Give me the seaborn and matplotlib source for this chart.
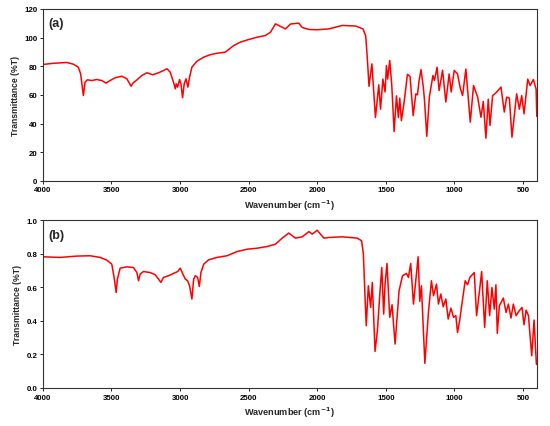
import matplotlib
matplotlib.use("Agg")
import matplotlib.pyplot as plt
import seaborn as sns
import pandas as pd

# Panel (a) spectrum: wavenumber (cm-1) and transmittance (%T)
wn_a = [4000, 3924, 3827, 3778, 3742, 3725, 3705, 3693, 3676, 3644, 3608, 3571, 3540, 3510,
        3474, 3425, 3388, 3357, 3345, 3320, 3279, 3242, 3199, 3157, 3121, 3096, 3072, 3048,
        3035, 3028, 3018, 3004, 2994, 2982, 2970, 2957, 2943, 2931, 2914, 2877, 2828, 2780,
        2731, 2670, 2609, 2560, 2500, 2439, 2378, 2341, 2305, 2232, 2195, 2135, 2110, 2061,
        2001, 1915, 1818, 1720, 1667, 1647, 1635, 1623, 1602, 1576, 1552, 1539, 1522, 1506,
        1496, 1487, 1472, 1457, 1440, 1423, 1409, 1399, 1387, 1367, 1343, 1324, 1301, 1282,
        1270, 1258, 1244, 1228, 1219, 1202, 1183, 1157, 1146, 1127, 1112, 1087, 1063, 1039,
        1024, 1002, 978, 958, 941, 917, 885, 861, 831, 807, 790, 771, 754, 741, 722, 698,
        661, 637, 620, 600, 581, 547, 527, 510, 493, 466, 449, 425, 405, 400]
tr_a = [81.2, 82.0, 82.6, 81.4, 79.3, 74.7, 59.5, 68.8, 70.5, 70.0, 70.7, 70.0, 68.2, 70.0,
        71.9, 73.0, 71.2, 66.0, 68.2, 70.0, 73.5, 75.4, 74.0, 75.4, 77.0, 78.2, 75.8, 68.8,
        64.2, 67.7, 65.4, 70.7, 67.7, 58.0, 67.7, 71.2, 65.4, 72.3, 79.3, 83.5, 86.3, 88.0,
        89.0, 89.8, 94.4, 96.8, 98.6, 100.2, 101.4, 103.7, 109.5, 106.0, 109.4, 110.0, 107.0, 105.6,
        105.4, 106.0, 108.4, 108.0, 106.0, 101.0, 85.0, 66.0, 81.6, 44.2, 67.0, 50.0, 71.0, 62.0,
        80.4, 71.0, 84.0, 66.5, 34.4, 59.3, 44.2, 57.7, 42.0, 55.0, 74.3, 72.8, 45.5, 60.7,
        60.0, 70.0, 77.6, 66.0, 57.0, 31.1, 58.6, 73.5, 70.0, 79.3, 63.0, 77.2, 55.0, 74.6,
        62.0, 77.0, 74.7, 64.7, 59.5, 78.0, 41.0, 66.5, 58.4, 44.4, 55.4, 29.8, 57.0, 38.6,
        59.5, 61.4, 65.4, 48.0, 58.4, 57.7, 30.5, 60.7, 50.0, 59.5, 46.8, 71.0, 66.5, 70.7,
        64.0, 45.0]

# Panel (b) spectrum: wavenumber (cm-1) and transmittance (fraction)
wn_b = [4000, 3876, 3754, 3656, 3583, 3535, 3498, 3481, 3466, 3457, 3437, 3388, 3340, 3315,
        3303, 3291, 3267, 3218, 3182, 3157, 3140, 3121, 3084, 3048, 3018, 2999, 2982, 2962,
        2945, 2931, 2914, 2901, 2889, 2872, 2860, 2848, 2828, 2792, 2731, 2658, 2585, 2512,
        2439, 2366, 2305, 2256, 2208, 2159, 2110, 2061, 2037, 2001, 1952, 1915, 1818, 1708,
        1677, 1664, 1652, 1643, 1628, 1611, 1599, 1579, 1562, 1545, 1530, 1516, 1506, 1492,
        1472, 1455, 1433, 1404, 1379, 1350, 1336, 1319, 1299, 1282, 1265, 1253, 1241, 1216,
        1190, 1168, 1153, 1131, 1117, 1100, 1082, 1063, 1046, 1026, 1007, 990, 978, 963,
        946, 922, 905, 888, 856, 839, 819, 802, 780, 761, 744, 727, 710, 698, 688, 673,
        644, 624, 607, 588, 571, 551, 532, 508, 493, 478, 461, 437, 420, 403, 400]
tr_b = [0.782, 0.778, 0.786, 0.788, 0.778, 0.762, 0.738, 0.659, 0.569, 0.649, 0.714, 0.722, 0.718, 0.688,
        0.639, 0.679, 0.694, 0.688, 0.675, 0.649, 0.629, 0.659, 0.669, 0.683, 0.694, 0.714, 0.683, 0.649,
        0.639, 0.609, 0.530, 0.649, 0.669, 0.659, 0.605, 0.688, 0.738, 0.764, 0.778, 0.788, 0.813, 0.827,
        0.833, 0.843, 0.857, 0.893, 0.923, 0.893, 0.901, 0.932, 0.917, 0.940, 0.893, 0.897, 0.901, 0.893,
        0.877, 0.798, 0.540, 0.371, 0.609, 0.480, 0.629, 0.218, 0.341, 0.550, 0.718, 0.440, 0.619, 0.742,
        0.421, 0.496, 0.262, 0.579, 0.669, 0.683, 0.659, 0.742, 0.500, 0.639, 0.782, 0.516, 0.609, 0.147,
        0.450, 0.639, 0.550, 0.619, 0.500, 0.560, 0.484, 0.530, 0.411, 0.476, 0.421, 0.431, 0.331, 0.397,
        0.500, 0.639, 0.615, 0.659, 0.688, 0.431, 0.569, 0.694, 0.361, 0.639, 0.431, 0.599, 0.470, 0.615,
        0.325, 0.490, 0.536, 0.450, 0.500, 0.417, 0.500, 0.431, 0.456, 0.480, 0.377, 0.464, 0.431, 0.192,
        0.405, 0.143, 0.140]

x_ticks = [4000, 3500, 3000, 2500, 2000, 1500, 1000, 500]
ya_ticks = [0, 20, 40, 60, 80, 100, 120]
yb_ticks = [0.0, 0.2, 0.4, 0.6, 0.8, 1.0]

sns.set_style("ticks")
plt.rcParams['font.family'] = ['Liberation Sans', 'DejaVu Sans']
plt.rcParams['font.weight'] = 'bold'

fig = plt.figure(figsize=(5.5, 4.27), dpi=100)
ax_a = fig.add_axes([0.078, 0.574, 0.898, 0.403])
ax_b = fig.add_axes([0.078, 0.089, 0.898, 0.393])

df_a = pd.DataFrame({"wn": wn_a, "tr": tr_a})
df_b = pd.DataFrame({"wn": wn_b, "tr": tr_b})

sns.lineplot(data=df_a, x="wn", y="tr", ax=ax_a, color="#ff0000", linewidth=1.1,
             estimator=None, sort=False)
sns.lineplot(data=df_b, x="wn", y="tr", ax=ax_b, color="#ff0000", linewidth=1.1,
             estimator=None, sort=False)

for ax, yt, ylim, lab, fmt, ly in [(ax_a, ya_ticks, (0, 120), "(a)", "{:.0f}", 0.955),
                                    (ax_b, yb_ticks, (0, 1.0), "(b)", "{:.1f}", 0.945)]:
    ax.set_xlim(4000, 400)
    ax.set_ylim(*ylim)
    ax.set_xticks(x_ticks)
    ax.set_xticklabels([str(t) for t in x_ticks], fontsize=5.7, fontweight='bold')
    ax.set_yticks(yt)
    ax.set_yticklabels([fmt.format(t) for t in yt], fontsize=5.7, fontweight='bold')
    ax.tick_params(direction='out', length=2.5, width=0.6, pad=1.5, colors='black')
    ax.set_xlabel("Wavenumber (cm$^{\\mathbf{-1}}$)", fontsize=6.6, fontweight='bold', labelpad=3)
    ax.set_ylabel("Transmittance (%T)", fontsize=6.2, fontweight='bold', labelpad=3)
    for s in ax.spines.values():
        s.set_linewidth(0.8)
        s.set_color('#333333')
    ax.text(0.012, ly, lab, transform=ax.transAxes, ha='left', va='top',
            fontsize=9, fontweight='bold')

fig.savefig("out.png", dpi=100)
